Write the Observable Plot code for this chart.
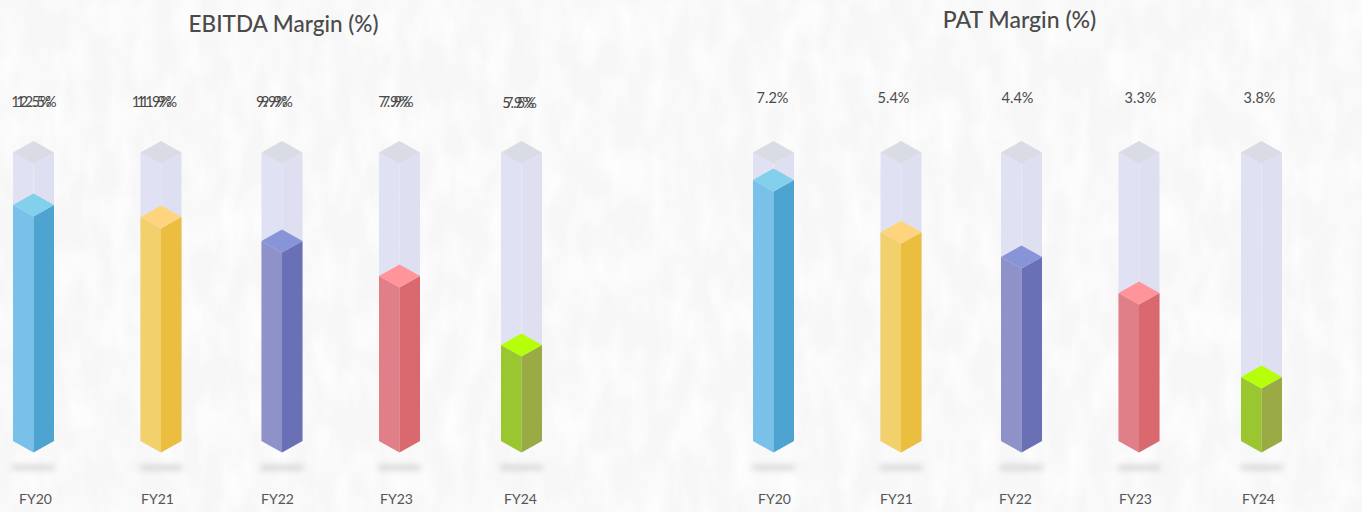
<!DOCTYPE html>
<html><head><meta charset="utf-8">
<script src="https://cdn.jsdelivr.net/npm/d3@7"></script>
<script src="https://cdn.jsdelivr.net/npm/@observablehq/plot@0.6"></script>
<style>
html,body{margin:0;padding:0;background:#fbfbfb;overflow:hidden}
#paper{position:absolute;left:0;top:0;width:1362px;height:512px}
#chart{position:absolute;left:0;top:0}
.shadow{filter:blur(3px)}
</style></head><body>
<svg id="paper" width="1362" height="512">
<filter id="wr" x="0" y="0" width="100%" height="100%">
<feTurbulence type="fractalNoise" baseFrequency="0.045 0.02" numOctaves="3" seed="23"/>
<feColorMatrix type="matrix" values="0 0 0 0 1 0 0 0 0 1 0 0 0 0 1 1.6 0 0 0 -0.55"/>
</filter>
<rect width="1362" height="512" fill="#f7f7f7"/>
<rect width="1362" height="512" filter="url(#wr)"/>
</svg>
<div id="chart"></div>
<script>
const years = ["FY20","FY21","FY22","FY23","FY24"];
const ebitdaLabelsA = ["12.5%","11.9%","9.9%","7.9%","5.9%"];
const ebitdaLabelsB = ["12.5%","11.9%","9.9%","7.9%","7.5%"];
const patLabels = ["7.2%","5.4%","4.4%","3.3%","3.8%"];
// column fill, in percent of the column height, as drawn
const ebitdaFill = [81.8,77.6,69.3,57.2,33.3];
const patFill = [90.5,72.4,63.8,51.3,22.2];
const ebitdaSlots = [33.5,161,282,399.5,521.5];
const patSlots = [773.5,901,1021.5,1139,1261.5];
const ebitdaYearSlots = [35,157,277,396,520];
const patYearSlots = [774,896,1015,1135,1258];
const ebitdaLabelSlots = [33.5,154,274,395.5,519];
const ebitdaLabelShift = [2.5,2.5,2.5,1.8,1.4];
const ebitdaLabelRise = [410,410,410,410,409];
const patLabelSlots = [772,893,1017,1140,1259];
const titles = ["EBITDA Margin (%)","PAT Margin (%)"];

const leftCol  = ["#7AC1EA","#F2D06B","#8F92C8","#E07F87","#9AC630"];
const rightCol = ["#4DA4D0","#EBBE40","#6A70B6","#D9696E","#9AAB45"];
const topCol   = ["#82D0EC","#FFD47F","#8794D8","#FF959B","#B6FF0A"];

const halfW = 20.5, rise = 11.5, base = 71, colH = 288.5;
const level = p => base + p/100*colH;

const bars = [...ebitdaFill.map((f,i)=>({c:ebitdaSlots[i],f,i})), ...patFill.map((f,i)=>({c:patSlots[i],f,i}))];

function face(c, f, side, fill, key){
  const y = level(f);
  return side==="left"
    ? [{x:c-halfW,y1:base,y2:y,fill,key},{x:c,y1:base-rise,y2:y-rise,fill,key}]
    : [{x:c,y1:base-rise,y2:y-rise,fill,key},{x:c+halfW,y1:base,y2:y,fill,key}];
}
function cap(c, f, fill, key){
  const y = level(f);
  return [{x:c-halfW,y1:y,y2:y,fill,key},{x:c,y1:y-rise,y2:y+rise,fill,key},{x:c+halfW,y1:y,y2:y,fill,key}];
}
let k=0;
const backFaces=[], backCaps=[], fronts=[], caps=[];
for(const b of bars){
  backFaces.push(...face(b.c,100,"left","#E0E1F2",k++));
  backFaces.push(...face(b.c,100,"right","#DEDFF0",k++));
  backCaps.push(...cap(b.c,100,"#D9DBE5",k++));
  fronts.push(...face(b.c,b.f,"left",leftCol[b.i],k++));
  fronts.push(...face(b.c,b.f,"right",rightCol[b.i],k++));
  caps.push(...cap(b.c,b.f,topCol[b.i],k++));
}
const area = (rows)=>Plot.areaY(rows,{x:"x",y1:"y1",y2:"y2",z:"key",fill:d=>d.fill});
const ink="#4a4a4a", font="Lato, 'Noto Sans', sans-serif";
const text=(vals,xs,y,opts={})=>Plot.text(vals,{x:(d,i)=>xs[i],y:(d,i)=>Array.isArray(y)?y[i]:y,text:d=>d,fill:ink,fontFamily:font,fontSize:14.5,...opts});
const shadowSlots=[...ebitdaSlots,...patSlots];

const plot = Plot.plot({
  width:1362,height:512,margin:0,
  style:{background:"transparent"},
  x:{type:"linear",domain:[0,1362],range:[0,1362],axis:null},
  y:{type:"linear",domain:[0,512],range:[512,0],axis:null},
  color:{type:"identity"},
  marks:[
    Plot.ruleY(shadowSlots,{y:()=>45,x1:d=>d-21,x2:d=>d+21,stroke:"#c4c4c4",strokeWidth:3.5,className:"shadow"}),
    area(backFaces),
    Plot.ruleX(bars,{x:"c",y1:d=>base-rise,y2:d=>level(100)-rise,stroke:"#fff",strokeOpacity:.2}),
    area(backCaps), area(fronts), area(caps),
    Plot.text([titles[0]],{x:()=>283,y:()=>488,text:d=>d,fill:ink,fontFamily:font,fontSize:22.5,fontWeight:500}),
    Plot.text([titles[1]],{x:()=>1019,y:()=>492,text:d=>d,fill:ink,fontFamily:font,fontSize:23,fontWeight:500}),
    text(ebitdaLabelsA,ebitdaLabelSlots.map((d,i)=>d-ebitdaLabelShift[i]),ebitdaLabelRise),
    text(ebitdaLabelsB,ebitdaLabelSlots.map((d,i)=>d+ebitdaLabelShift[i]),ebitdaLabelRise),
    text(patLabels,patLabelSlots,414),
    text(years,ebitdaYearSlots,13,{fontSize:14,fill:"#555"}),
    text(years,patYearSlots,13,{fontSize:14,fill:"#555"})
  ]
});
document.getElementById("chart").append(plot);
</script>
</body></html>
